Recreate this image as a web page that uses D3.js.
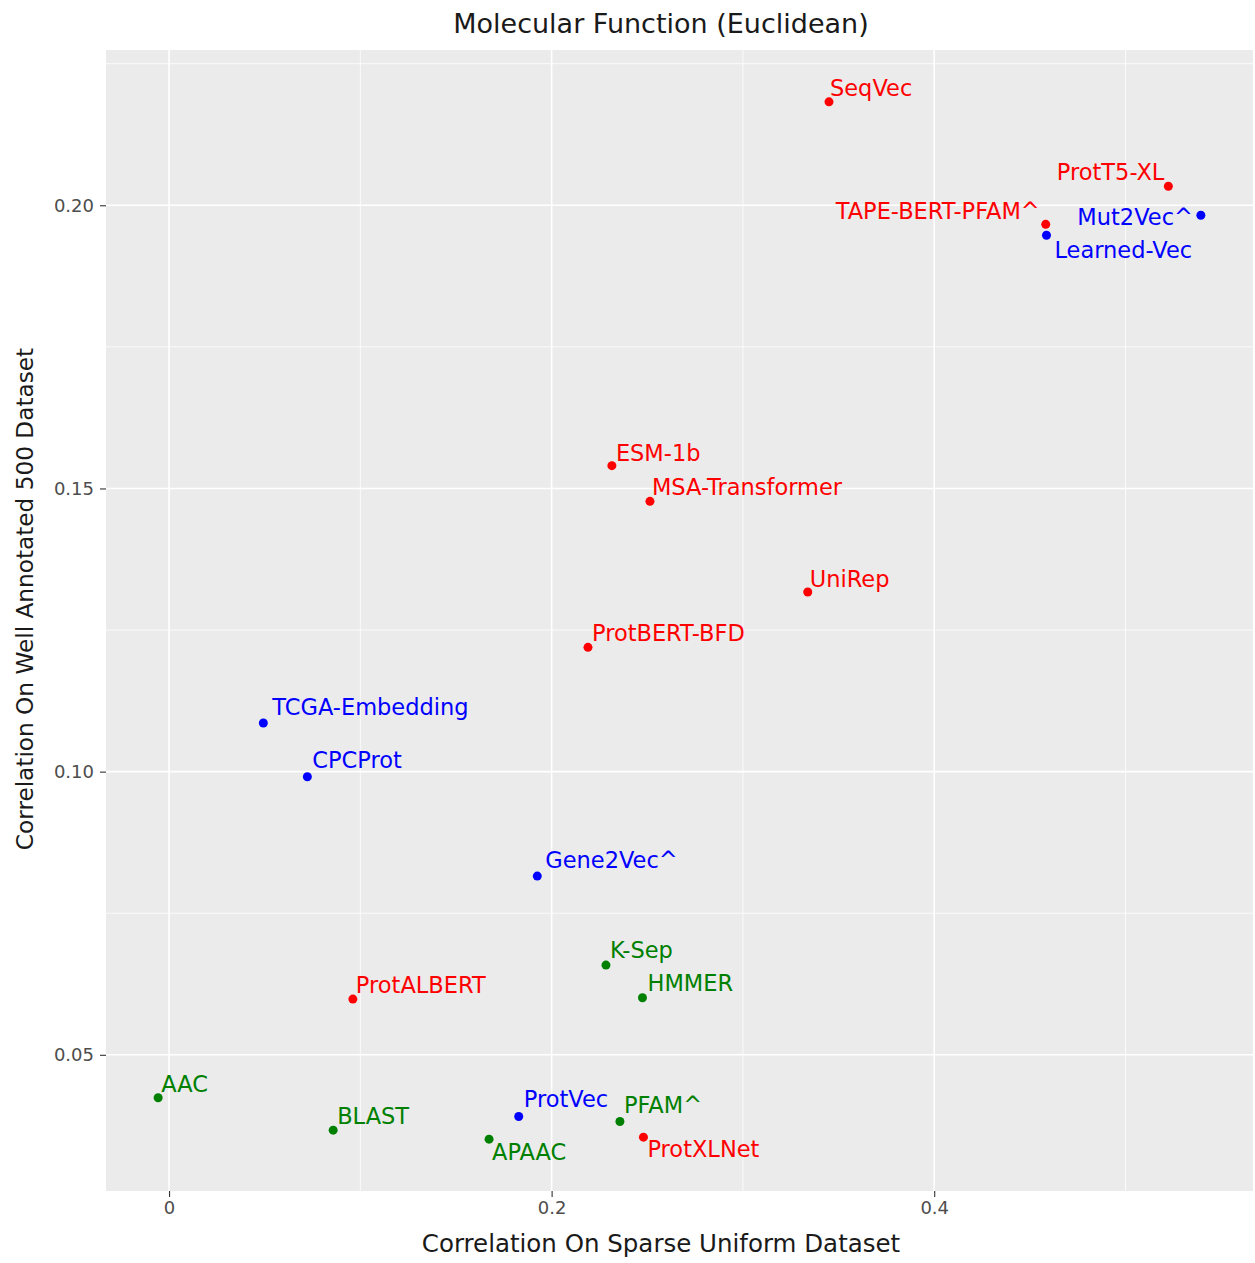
<!DOCTYPE html>
<html>
<head>
<meta charset="utf-8">
<script src="https://cdn.jsdelivr.net/npm/d3@7"></script>
<style>
  html, body { margin: 0; padding: 0; background: #ffffff; }
  svg { display: block; font-family: "DejaVu Sans", sans-serif; }
</style>
</head>
<body>
<svg id="chart" width="1255" height="1263"></svg>
<script>
// Embedding methods and their correlations on the two datasets
const methods = [
  "SeqVec", "ProtT5-XL", "TAPE-BERT-PFAM^", "Mut2Vec^", "Learned-Vec",
  "ESM-1b", "MSA-Transformer", "UniRep", "ProtBERT-BFD", "TCGA-Embedding",
  "CPCProt", "Gene2Vec^", "K-Sep", "HMMER", "ProtALBERT",
  "AAC", "BLAST", "APAAC", "ProtVec", "PFAM^", "ProtXLNet"
];
const sparseUniform = [
  0.3450, 0.5224, 0.4583, 0.5394, 0.4587,
  0.2315, 0.2514, 0.3339, 0.2190, 0.0493,
  0.0723, 0.1925, 0.2284, 0.2475, 0.0961,
  -0.0057, 0.0858, 0.1673, 0.1828, 0.2357, 0.2480
];
const wellAnnotated = [
  0.21826, 0.20336, 0.19664, 0.19823, 0.19470,
  0.15403, 0.14772, 0.13172, 0.12194, 0.10858,
  0.09910, 0.08156, 0.06584, 0.06007, 0.05984,
  0.04241, 0.03670, 0.03511, 0.03910, 0.03822, 0.03546
];
const groups = [
  "lm", "lm", "lm", "other", "other",
  "lm", "lm", "lm", "lm", "other",
  "other", "other", "classic", "classic", "lm",
  "classic", "classic", "classic", "other", "classic", "lm"
];
const xTicks = [0, 0.2, 0.4];
const xTickLabels = ["0", "0.2", "0.4"];
const yTicks = [0.05, 0.10, 0.15, 0.20];
const yTickLabels = ["0.05", "0.10", "0.15", "0.20"];

// Text placement around each point (label nudges, in px)
const labelNudge = [
  [1, -6, "start"], [-4, -6, "end"], [-6, -5, "end"], [-8, 10, "end"], [8, 23, "start"],
  [4, -5, "start"], [2, -6, "start"], [2, -5, "start"], [4, -6, "start"], [9, -8, "start"],
  [5, -9, "start"], [8, -8, "start"], [4, -7, "start"], [5, -7, "start"], [3, -6, "start"],
  [3, -6, "start"], [4, -6, "start"], [3, 21, "start"], [5, -10, "start"], [4, -9, "start"], [4, 20, "start"]
];

const groupColor = { lm: "#ff0000", other: "#0000ff", classic: "#008000" };

const svg = d3.select("#chart");
const panel = { left: 106, right: 1253, top: 50, bottom: 1191 };

// ggplot-style 5% expansion of the data range
function expanded(vals) {
  const [lo, hi] = d3.extent(vals);
  const pad = (hi - lo) * 0.05;
  return [lo - pad, hi + pad];
}

const x = d3.scaleLinear().domain(expanded(sparseUniform)).range([panel.left, panel.right]);
const y = d3.scaleLinear().domain(expanded(wellAnnotated)).range([panel.bottom, panel.top]);

// panel background
svg.append("rect")
  .attr("x", panel.left).attr("y", panel.top)
  .attr("width", panel.right - panel.left).attr("height", panel.bottom - panel.top)
  .attr("fill", "#ebebeb");

const grid = svg.append("g");
const xMinor = [0.1, 0.3, 0.5];
const yMinor = [0.075, 0.125, 0.175, 0.225];
grid.selectAll(".xminor").data(xMinor).join("line")
  .attr("x1", d => x(d)).attr("x2", d => x(d))
  .attr("y1", panel.top).attr("y2", panel.bottom)
  .attr("stroke", "#ffffff").attr("stroke-width", 0.8);
grid.selectAll(".yminor").data(yMinor).join("line")
  .attr("y1", d => y(d)).attr("y2", d => y(d))
  .attr("x1", panel.left).attr("x2", panel.right)
  .attr("stroke", "#ffffff").attr("stroke-width", 0.8);
grid.selectAll(".xmajor").data(xTicks).join("line")
  .attr("x1", d => x(d)).attr("x2", d => x(d))
  .attr("y1", panel.top).attr("y2", panel.bottom)
  .attr("stroke", "#ffffff").attr("stroke-width", 1.6);
grid.selectAll(".ymajor").data(yTicks).join("line")
  .attr("y1", d => y(d)).attr("y2", d => y(d))
  .attr("x1", panel.left).attr("x2", panel.right)
  .attr("stroke", "#ffffff").attr("stroke-width", 1.6);

// axes
const xAxis = svg.append("g")
  .attr("transform", `translate(0,${panel.bottom})`)
  .call(d3.axisBottom(x).tickValues(xTicks).tickFormat((d, i) => xTickLabels[i]).tickSizeInner(6).tickSizeOuter(0).tickPadding(4));
const yAxis = svg.append("g")
  .attr("transform", `translate(${panel.left},0)`)
  .call(d3.axisLeft(y).tickValues(yTicks).tickFormat((d, i) => yTickLabels[i]).tickSizeInner(6).tickSizeOuter(0).tickPadding(6));
[xAxis, yAxis].forEach(a => {
  a.select(".domain").remove();
  a.selectAll(".tick line").attr("stroke", "#333333").attr("stroke-width", 1.1);
  a.selectAll(".tick text")
    .attr("fill", "#4d4d4d")
    .style("font-family", "DejaVu Sans, sans-serif")
    .style("font-size", "18px");
});

// points
const rows = methods.map((m, i) => ({
  name: m, sx: sparseUniform[i], wy: wellAnnotated[i], group: groups[i], nudge: labelNudge[i]
}));

svg.append("g").selectAll("circle").data(rows).join("circle")
  .attr("cx", d => x(d.sx)).attr("cy", d => y(d.wy))
  .attr("r", 4.5)
  .attr("fill", d => groupColor[d.group]);

svg.append("g").selectAll("text").data(rows).join("text")
  .attr("x", d => x(d.sx) + d.nudge[0])
  .attr("y", d => y(d.wy) + d.nudge[1])
  .attr("text-anchor", d => d.nudge[2])
  .attr("fill", d => groupColor[d.group])
  .style("font-size", "22.5px")
  .text(d => d.name);

// titles
svg.append("text")
  .attr("x", 661).attr("y", 33)
  .attr("text-anchor", "middle")
  .attr("fill", "#1a1a1a")
  .style("font-size", "27px")
  .text("Molecular Function (Euclidean)");

svg.append("text")
  .attr("x", 661).attr("y", 1252)
  .attr("text-anchor", "middle")
  .attr("fill", "#1a1a1a")
  .style("font-size", "24.5px")
  .text("Correlation On Sparse Uniform Dataset");

svg.append("text")
  .attr("transform", "translate(33,599) rotate(-90)")
  .attr("text-anchor", "middle")
  .attr("fill", "#1a1a1a")
  .style("font-size", "23.2px")
  .text("Correlation On Well Annotated 500 Dataset");
</script>
</body>
</html>
